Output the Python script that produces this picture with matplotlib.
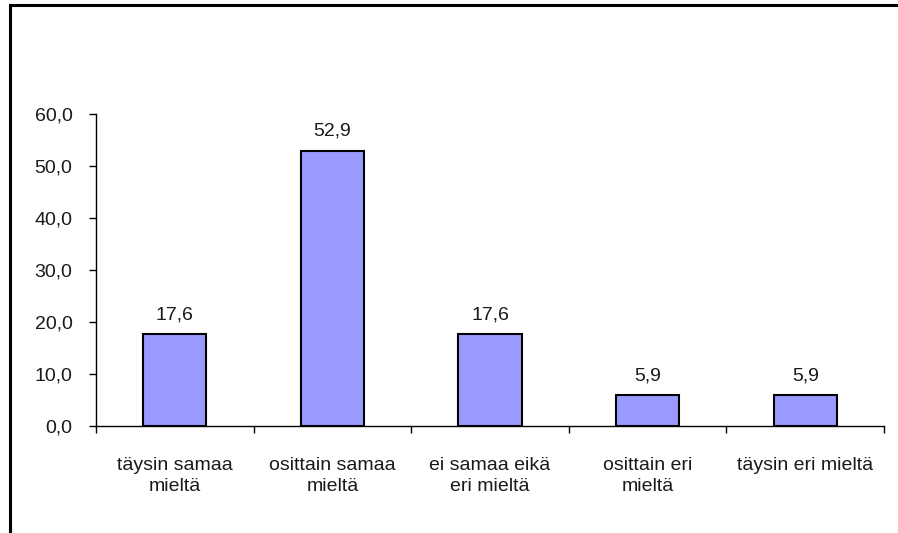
import matplotlib
matplotlib.use("Agg")
import matplotlib.pyplot as plt
from matplotlib.lines import Line2D
import numpy as np

categories = ["täysin samaa\nmieltä", "osittain samaa\nmieltä", "ei samaa eikä\neri mieltä",
              "osittain eri\nmieltä", "täysin eri mieltä"]
values = [17.6, 52.9, 17.6, 5.9, 5.9]
y_ticks = [0, 10, 20, 30, 40, 50, 60]

plt.rcParams['font.family'] = ['Liberation Sans', 'DejaVu Sans']
FS = 14
TXT = "#1a1a1a"

fig = plt.figure(figsize=(8.98, 5.33), dpi=100)
ax = fig.add_axes([96 / 898, 1 - 426 / 533, (884 - 96) / 898, (426 - 114) / 533])

x = np.arange(len(categories))
ax.bar(x, values, width=0.4, color="#9999FF", edgecolor="black", linewidth=1.5, zorder=3)

for xi, v in zip(x, values):
    ax.annotate(f"{v:.1f}".replace(".", ","), (xi, v), xytext=(0, 8), textcoords="offset points",
                ha="center", va="bottom", fontsize=FS, color=TXT)

ax.set_xlim(-0.5, len(categories) - 0.5)
ax.set_ylim(0, 60)
ax.set_yticks(y_ticks)
ax.set_yticklabels([f"{t:.1f}".replace(".", ",") for t in y_ticks], fontsize=FS, color=TXT)

ax.set_xticks(x)
ax.set_xticklabels(categories, fontsize=FS, color=TXT, linespacing=1.38)
ax.set_xticks(np.arange(len(categories) + 1) - 0.5, minor=True)
ax.tick_params(axis="x", which="major", length=0, pad=22)
ax.tick_params(axis="x", which="minor", length=5, width=1, direction="out")
ax.tick_params(axis="y", length=5, width=1, direction="out", pad=12)

for side in ("top", "right"):
    ax.spines[side].set_visible(False)
for side in ("left", "bottom"):
    ax.spines[side].set_linewidth(1)

# outer frame on the left and top edges
fig.add_artist(Line2D([10 / 898, 10 / 898], [0, 1 - 5 / 533], transform=fig.transFigure,
                      color="black", linewidth=2.2))
fig.add_artist(Line2D([10 / 898, 1], [1 - 5 / 533, 1 - 5 / 533], transform=fig.transFigure,
                      color="black", linewidth=2.2))

fig.savefig("out.png", dpi=100)
